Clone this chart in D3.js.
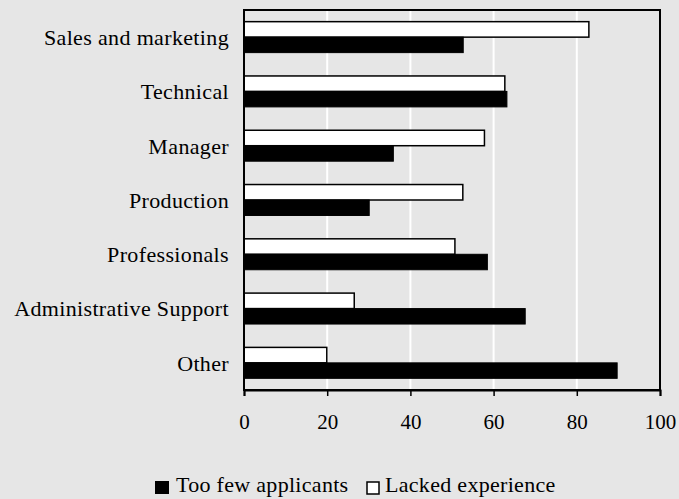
<!DOCTYPE html>
<html><head><meta charset="utf-8">
<script src="https://cdn.jsdelivr.net/npm/d3@7"></script>
<style>
html,body{margin:0;padding:0;background:#e6e6e6;}
svg{display:block;}
</style></head>
<body>
<script>
const categories = ["Sales and marketing","Technical","Manager","Production","Professionals","Administrative Support","Other"];
const tooFewApplicants = [52.7, 63.2, 35.9, 30.1, 58.5, 67.6, 89.7];
const lackedExperience = [82.9, 62.7, 57.8, 52.6, 50.7, 26.5, 19.9];
const xTicks = [0, 20, 40, 60, 80, 100];
const seriesNames = ["Too few applicants", "Lacked experience"];

const FONT = "'Liberation Serif','Times New Roman',serif";
const W = 679, H = 499;
const m = {left: 244, right: 660, top: 10, bottom: 390};
const svg = d3.select("body").append("svg").attr("width", W).attr("height", H)
  .attr("font-family", FONT);
svg.append("rect").attr("width", W).attr("height", H).attr("fill", "#e6e6e6");

const x = d3.scaleLinear().domain([0, 100]).range([m.left, m.right]);
const y = d3.scaleBand().domain(categories).range([m.top, m.bottom]).paddingInner(0.43).paddingOuter(0.215);
const sub = d3.scaleBand().domain(["lacked", "few"]).range([0, y.bandwidth()]);

svg.append("g").selectAll("line").data(xTicks.filter(t => t > 0 && t < 100)).join("line")
  .attr("x1", d => x(d)).attr("x2", d => x(d))
  .attr("y1", m.top).attr("y2", m.bottom)
  .attr("stroke", "#ffffff").attr("stroke-width", 2);

const rows = categories.map((c, i) => ({c, few: tooFewApplicants[i], lacked: lackedExperience[i]}));

svg.append("g").selectAll("rect").data(rows).join("rect")
  .attr("x", x(0)).attr("y", d => y(d.c) + sub("lacked"))
  .attr("width", d => x(d.lacked) - x(0)).attr("height", sub.bandwidth())
  .attr("fill", "#fff").attr("stroke", "#000").attr("stroke-width", 1.5);
svg.append("g").selectAll("rect").data(rows).join("rect")
  .attr("x", x(0)).attr("y", d => y(d.c) + sub("few"))
  .attr("width", d => x(d.few) - x(0)).attr("height", sub.bandwidth())
  .attr("fill", "#000").attr("stroke", "#000").attr("stroke-width", 1);

svg.append("rect").attr("x", m.left).attr("y", m.top)
  .attr("width", m.right - m.left).attr("height", m.bottom - m.top)
  .attr("fill", "none").attr("stroke", "#000").attr("stroke-width", 2);

const xAxis = d3.axisBottom(x).tickValues(xTicks).tickSize(6).tickPadding(18).tickFormat(d3.format("d"));
const gx = svg.append("g").attr("transform", `translate(0,${m.bottom})`).call(xAxis)
  .attr("font-family", FONT).attr("font-size", 21);
gx.select(".domain").attr("stroke", "#000").attr("stroke-width", 2);
gx.selectAll(".tick line").attr("stroke", "#000").attr("stroke-width", 1.5);
gx.selectAll(".tick text").attr("fill", "#000");

const yAxis = d3.axisLeft(y).tickSize(0).tickPadding(15);
const gy = svg.append("g").attr("transform", `translate(${m.left},0)`).call(yAxis)
  .attr("font-family", FONT).attr("font-size", 22).attr("letter-spacing", 0.35);
gy.select(".domain").remove();
gy.selectAll(".tick text").attr("fill", "#000").attr("dy", "0.36em");

const lg = svg.append("g").attr("font-size", 22).attr("letter-spacing", 0.3);
lg.append("rect").attr("x", 155).attr("y", 481).attr("width", 14).attr("height", 13).attr("fill", "#000");
lg.append("text").attr("x", 176).attr("y", 492).text(seriesNames[0]);
lg.append("rect").attr("x", 367).attr("y", 482).attr("width", 12).attr("height", 12).attr("fill", "#fff").attr("stroke", "#000").attr("stroke-width", 1.5);
lg.append("text").attr("x", 385).attr("y", 492).text(seriesNames[1]);
</script>
</body></html>
